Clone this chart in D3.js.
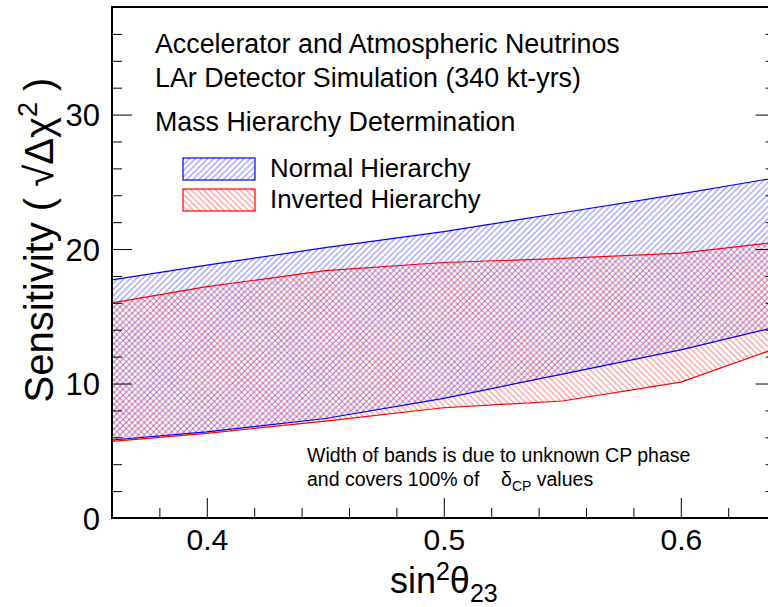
<!DOCTYPE html>
<html>
<head>
<meta charset="utf-8">
<script src="https://cdn.jsdelivr.net/npm/d3@7"></script>
<style>
  html, body { margin: 0; padding: 0; background: #ffffff; }
  svg text { font-family: "Liberation Sans", Arial, Helvetica, sans-serif; fill: #000; white-space: pre; }
</style>
</head>
<body>
<svg id="chart" width="768" height="607"></svg>
<script>
// sin^2(theta_23) sample points
const sin2theta = [0.36, 0.40, 0.45, 0.50, 0.55, 0.60, 0.64];
// Normal hierarchy band (min / max over delta_CP)
const nhLow  = [5.8, 6.4, 7.4, 8.9, 10.7, 12.5, 14.2];
const nhHigh = [17.7, 18.8, 20.1, 21.3, 22.7, 24.1, 25.3];
// Inverted hierarchy band
const ihLow  = [5.7, 6.3, 7.2, 8.2, 8.7, 10.1, 12.6];
const ihHigh = [16.0, 17.2, 18.4, 19.0, 19.3, 19.7, 20.5];

const xMajor = [0.4, 0.5, 0.6];
const xMinor = [0.36, 0.38, 0.42, 0.44, 0.46, 0.48, 0.52, 0.54, 0.56, 0.58, 0.62, 0.64];
const yMajor = [0, 10, 20, 30];
const yMinor = [2, 4, 6, 8, 12, 14, 16, 18, 22, 24, 26, 28, 32, 34, 36];

const svg = d3.select("#chart");
const W = 768, H = 607;
const m = { left: 112, top: 7, right: 775.6, bottom: 518 };

const x = d3.scaleLinear().domain([0.36, 0.64]).range([m.left, m.right]);
const y = d3.scaleLinear().domain([0, 38]).range([m.bottom, m.top]);

svg.append("rect").attr("width", W).attr("height", H).attr("fill", "#fff");

// hatch patterns
const defs = svg.append("defs");
function hatch(id, color, angle) {
  const p = defs.append("pattern")
    .attr("id", id)
    .attr("patternUnits", "userSpaceOnUse")
    .attr("width", 4.3).attr("height", 10)
    .attr("patternTransform", `rotate(${angle})`);
  p.append("line")
    .attr("x1", 1).attr("x2", 1).attr("y1", -1).attr("y2", 11)
    .attr("stroke", color).attr("stroke-width", 1).attr("stroke-opacity", 0.5);
}
hatch("hatchNH", "#0000ff", 45);
hatch("hatchIH", "#ff0000", -45);

const clip = defs.append("clipPath").attr("id", "plotClip");
clip.append("rect").attr("x", m.left).attr("y", m.top)
  .attr("width", m.right - m.left).attr("height", m.bottom - m.top);

const plot = svg.append("g").attr("clip-path", "url(#plotClip)");

function bandData(lo, hi) {
  return sin2theta.map((s, i) => ({ s, lo: lo[i], hi: hi[i] }));
}
const area = d3.area().x(d => x(d.s)).y0(d => y(d.lo)).y1(d => y(d.hi));
const lineLo = d3.line().x(d => x(d.s)).y(d => y(d.lo));
const lineHi = d3.line().x(d => x(d.s)).y(d => y(d.hi));

const nh = bandData(nhLow, nhHigh);
const ih = bandData(ihLow, ihHigh);

plot.append("path").datum(nh).attr("d", area).attr("fill", "url(#hatchNH)");
plot.append("path").datum(ih).attr("d", area).attr("fill", "url(#hatchIH)");

[[nh, "#0000ff"], [ih, "#ff0000"]].forEach(([d, c]) => {
  plot.append("path").datum(d).attr("d", lineHi).attr("fill", "none").attr("stroke", c).attr("stroke-width", 1.2);
  plot.append("path").datum(d).attr("d", lineLo).attr("fill", "none").attr("stroke", c).attr("stroke-width", 1.2);
});

// axes: ticks drawn inward
const axisG = svg.append("g");
function addAxis(gen, tx, ty, vals, size, fmt) {
  const g = axisG.append("g").attr("transform", `translate(${tx},${ty})`)
    .call(gen.tickValues(vals).tickSizeInner(size).tickSizeOuter(0).tickFormat(fmt));
  g.select(".domain").remove();
  g.selectAll(".tick line").attr("stroke", "#000").attr("stroke-width", 1);
  return g;
}
const none = () => "";
const xb = addAxis(d3.axisBottom(x), 0, m.bottom, xMajor, -20, d3.format(".1f"));
xb.selectAll(".tick text").attr("y", 0).attr("dy", "32px").style("font-size", "30px");
addAxis(d3.axisBottom(x), 0, m.bottom, xMinor, -10, none);

const yl = addAxis(d3.axisLeft(y), m.left, 0, yMajor, -20, d3.format("d"));
yl.selectAll(".tick text").attr("x", -12).attr("dy", "0.36em").style("font-size", "31px");
addAxis(d3.axisLeft(y), m.left, 0, yMinor, -10, none);
addAxis(d3.axisRight(y), m.right, 0, yMajor, -20, none);
addAxis(d3.axisRight(y), m.right, 0, yMinor, -10, none);

// frame
svg.append("rect").attr("x", m.left).attr("y", m.top)
  .attr("width", m.right - m.left).attr("height", m.bottom - m.top)
  .attr("fill", "none").attr("stroke", "#000").attr("stroke-width", 2);

// axis titles
const xt = svg.append("text").attr("x", (m.left + m.right) / 2).attr("y", 593)
  .attr("text-anchor", "middle").style("font-size", "36px");
xt.append("tspan").text("sin");
xt.append("tspan").text("2").attr("dy", -13).style("font-size", "25px");
xt.append("tspan").text("θ").attr("dy", 13);
xt.append("tspan").text("23").attr("dy", 9).style("font-size", "25px");

const yt = svg.append("text")
  .attr("transform", `translate(53,240) rotate(-90)`)
  .attr("text-anchor", "middle").style("font-size", "40px");
yt.append("tspan").text("Sensitivity ( √Δχ");
yt.append("tspan").text("2").attr("dy", -16).style("font-size", "27px");
yt.append("tspan").text(" )").attr("dy", 16);

// annotations
const notes = [
  ["Accelerator and Atmospheric Neutrinos", 53],
  ["LAr Detector Simulation (340 kt-yrs)", 87],
  ["Mass Hierarchy Determination", 131]
];
notes.forEach(([t, yy]) => svg.append("text").attr("x", 155).attr("y", yy)
  .style("font-size", "26.8px").text(t));

// legend
const legend = [
  ["Normal Hierarchy", "url(#hatchNH)", "#0000ff", 158],
  ["Inverted Hierarchy", "url(#hatchIH)", "#ff0000", 189]
];
legend.forEach(([t, fill, c, yy]) => {
  svg.append("rect").attr("x", 183).attr("y", yy).attr("width", 72).attr("height", 22)
    .attr("fill", fill).attr("stroke", c).attr("stroke-width", 1.2);
  svg.append("text").attr("x", 270).attr("y", yy + 19).style("font-size", "25.8px").text(t);
});

svg.append("text").attr("x", 307).attr("y", 462).style("font-size", "19.5px")
  .text("Width of bands is due to unknown CP phase");
const n2 = svg.append("text").attr("x", 307).attr("y", 486).style("font-size", "19.5px");
n2.append("tspan").text("and covers 100% of    δ");
n2.append("tspan").text("CP").attr("dy", 5).style("font-size", "14px");
n2.append("tspan").text(" values").attr("dy", -5);
</script>
</body>
</html>
